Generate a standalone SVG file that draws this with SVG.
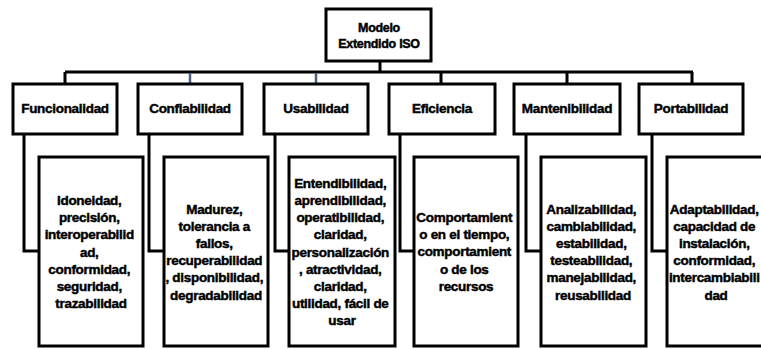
<svg xmlns="http://www.w3.org/2000/svg" width="761" height="349" viewBox="0 0 761 349">
  <style>
    .box { fill: #ffffff; stroke: #000000; stroke-width: 3; }
    .wire { fill: none; stroke: #000000; stroke-width: 3; }
    .wire-blue { fill: none; stroke: #4a6080; stroke-width: 2.5; }
    text { font-family: "Liberation Sans", Arial, sans-serif; font-weight: bold; font-size: 13.5px; letter-spacing: -0.3px; fill: #000000; stroke: #000000; stroke-width: 0.45px; text-anchor: middle; }
    .root-label { font-size: 12.5px; }
  </style>
  <rect width="761" height="349" fill="#ffffff"/>

  <!-- connectors -->
  <g id="connectors">
    <path class="wire" d="M380 61 V72 M65 72 H693 M65 72 V84 M441 72 V84 M567 72 V84 M692 72 V84"/>
    <path class="wire-blue" d="M190 73 V84 M316 73 V84"/>
    <path class="wire" d="M24 134 V251 H39 M149 134 V251 H164 M275 134 V251 H289 M400 134 V251 H414 M526 134 V251 H541 M652 134 V251 H667"/>
  </g>

  <!-- root -->
  <g id="root">
    <rect class="box" x="326" y="9" width="105" height="52"/>
    <text class="root-label" x="379" y="32">Modelo</text>
    <text class="root-label" x="379" y="48">Extendido ISO</text>
  </g>

  <!-- characteristics -->
  <g id="funcionalidad">
    <rect class="box" x="13" y="84" width="104" height="50"/>
    <text x="65" y="113">Funcionalidad</text>
  </g>
  <g id="confiabilidad">
    <rect class="box" x="138" y="84" width="104" height="50"/>
    <text x="190" y="113">Confiabilidad</text>
  </g>
  <g id="usabilidad">
    <rect class="box" x="264" y="84" width="104" height="50"/>
    <text x="316" y="113">Usabilidad</text>
  </g>
  <g id="eficiencia">
    <rect class="box" x="389" y="84" width="106" height="50"/>
    <text x="442" y="113">Eficiencia</text>
  </g>
  <g id="mantenibilidad">
    <rect class="box" x="514" y="84" width="106" height="50"/>
    <text x="567" y="113">Mantenibilidad</text>
  </g>
  <g id="portabilidad">
    <rect class="box" x="639" y="84" width="104" height="50"/>
    <text x="691" y="113">Portabilidad</text>
  </g>

  <!-- sub-characteristics -->
  <g id="funcionalidad-detalle">
    <rect class="box" x="39" y="157" width="104" height="189"/>
    <text x="91" y="205">
      <tspan x="91">Idoneidad,</tspan>
      <tspan x="91" dy="17.2">precisión,</tspan>
      <tspan x="91" dy="17.2">interoperabilid</tspan>
      <tspan x="91" dy="17.2">ad,</tspan>
      <tspan x="91" dy="17.2">conformidad,</tspan>
      <tspan x="91" dy="17.2">seguridad,</tspan>
      <tspan x="91" dy="17.2">trazabilidad</tspan>
    </text>
  </g>
  <g id="confiabilidad-detalle">
    <rect class="box" x="164" y="157" width="104" height="189"/>
    <text x="216" y="213.5">
      <tspan x="216">Madurez,</tspan>
      <tspan x="216" dy="17.2">tolerancia a</tspan>
      <tspan x="216" dy="17.2">fallos,</tspan>
      <tspan x="216" dy="17.2">recuperabilidad</tspan>
      <tspan x="216" dy="17.2">, disponibilidad,</tspan>
      <tspan x="216" dy="17.2">degradabilidad</tspan>
    </text>
  </g>
  <g id="usabilidad-detalle">
    <rect class="box" x="289" y="157" width="106" height="189"/>
    <text x="342" y="187.7">
      <tspan x="342">Entendibilidad,</tspan>
      <tspan x="342" dy="17.2">aprendibilidad,</tspan>
      <tspan x="342" dy="17.2">operatibilidad,</tspan>
      <tspan x="342" dy="17.2">claridad,</tspan>
      <tspan x="342" dy="17.2">personalización</tspan>
      <tspan x="342" dy="17.2">, atractividad,</tspan>
      <tspan x="342" dy="17.2">claridad,</tspan>
      <tspan x="342" dy="17.2">utilidad, fácil de</tspan>
      <tspan x="342" dy="17.2">usar</tspan>
    </text>
  </g>
  <g id="eficiencia-detalle">
    <rect class="box" x="414" y="157" width="104" height="189"/>
    <text x="466" y="222">
      <tspan x="466">Comportamient</tspan>
      <tspan x="466" dy="17.2">o en el tiempo,</tspan>
      <tspan x="466" dy="17.2">comportamient</tspan>
      <tspan x="466" dy="17.2">o de los</tspan>
      <tspan x="466" dy="17.2">recursos</tspan>
    </text>
  </g>
  <g id="mantenibilidad-detalle">
    <rect class="box" x="541" y="157" width="105" height="189"/>
    <text x="593" y="213.5">
      <tspan x="593">Analizabilidad,</tspan>
      <tspan x="593" dy="17.2">cambiabilidad,</tspan>
      <tspan x="593" dy="17.2">estabilidad,</tspan>
      <tspan x="593" dy="17.2">testeabilidad,</tspan>
      <tspan x="593" dy="17.2">manejabilidad,</tspan>
      <tspan x="593" dy="17.2">reusabilidad</tspan>
    </text>
  </g>
  <g id="portabilidad-detalle">
    <rect class="box" x="667" y="157" width="103" height="189"/>
    <text x="716" y="213.5">
      <tspan x="716">Adaptabilidad,</tspan>
      <tspan x="716" dy="17.2">capacidad de</tspan>
      <tspan x="716" dy="17.2">instalación,</tspan>
      <tspan x="716" dy="17.2">conformidad,</tspan>
      <tspan x="716" dy="17.2">intercambiabili</tspan>
      <tspan x="716" dy="17.2">dad</tspan>
    </text>
  </g>
</svg>
